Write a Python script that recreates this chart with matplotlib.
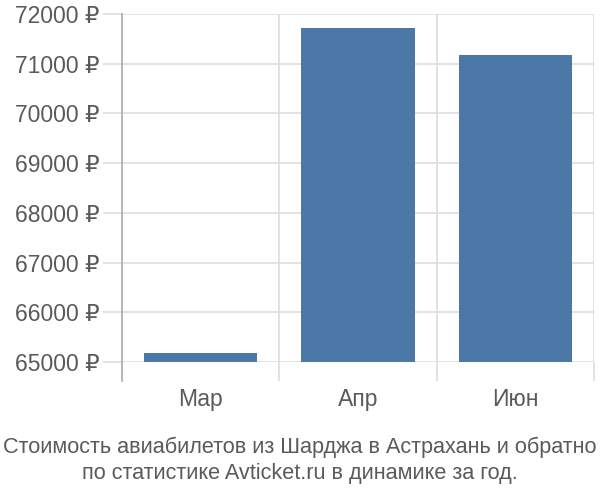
import matplotlib
matplotlib.use("Agg")
import matplotlib.pyplot as plt
from matplotlib.ticker import FuncFormatter

months = ["Мар", "Апр", "Июн"]
prices = [65175, 71720, 71185]
y_ticks = [65000, 66000, 67000, 68000, 69000, 70000, 71000, 72000]
title_lines = [
    "Стоимость авиабилетов из Шарджа в Астрахань и обратно",
    "по статистике Avticket.ru в динамике за год.",
]

BAR = "#4C78A8"
GRID = "#DDDDDD"
TEXT = "#5A5A5A"

plt.rcParams["font.family"] = ["Liberation Sans", "DejaVu Sans"]

fig = plt.figure(figsize=(6, 5), dpi=100, facecolor="white")
ax = fig.add_axes([122 / 600, 1 - 362 / 500, (594 - 122) / 600, (362 - 14) / 500])

x = list(range(len(months)))
ax.bar(x, prices, width=0.72, color=BAR, zorder=3)
ax.set_xlim(-0.5, len(months) - 0.5)
ax.set_ylim(65000, 72000)

for side in ["top", "right", "bottom", "left"]:
    ax.spines[side].set_visible(False)

ax.set_yticks(y_ticks)
ax.yaxis.set_major_formatter(FuncFormatter(lambda v, _: f"{v:.0f} ₽"))
ax.yaxis.grid(True, color=GRID, linewidth=1.2, zorder=0)
ax.tick_params(axis="y", length=14, color=GRID, width=1.2, pad=2, labelsize=16.5, labelcolor=TEXT)

ax.set_xticks(x)
ax.set_xticklabels(months)
ax.tick_params(axis="x", which="major", length=0, pad=19, labelsize=16.5, labelcolor=TEXT)
ax.set_xticks([i + 0.5 for i in x], minor=True)
ax.xaxis.grid(True, which="minor", color=GRID, linewidth=1.2, zorder=0)
ax.tick_params(axis="x", which="minor", length=14, color=GRID, width=1.2)

ax.plot([0, 0], [-19 / 348, 1], transform=ax.transAxes, color="#AAAAAA",
        linewidth=1.2, clip_on=False, zorder=4)

fig.text(0.5, 1 - 447 / 500, title_lines[0], ha="center", va="center", fontsize=15.6, color=TEXT)
fig.text(0.5, 1 - 473 / 500, title_lines[1], ha="center", va="center", fontsize=15.6, color=TEXT)

fig.savefig("out.png", dpi=100, facecolor="white")
